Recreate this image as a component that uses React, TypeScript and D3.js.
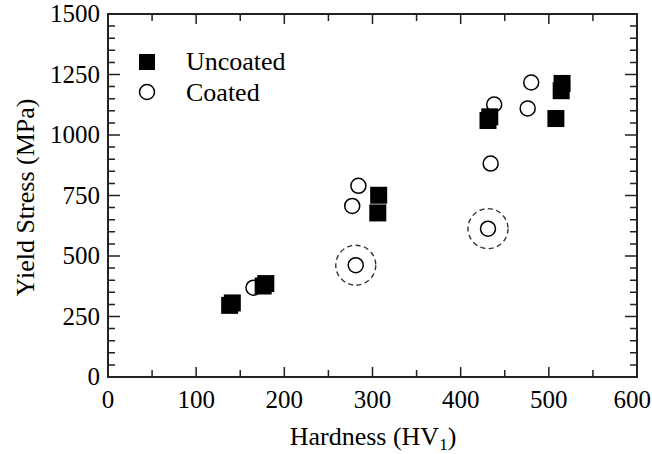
import * as d3 from 'd3';
import React, { useRef, useEffect } from 'react';

// Hardness (HV1) and yield stress (MPa)
const uncoatedHardness = [138, 141, 176, 179, 306, 307, 431, 433, 508, 514, 515];
const uncoatedStress = [296, 306, 376, 386, 678, 751, 1060, 1075, 1068, 1183, 1213];
const coatedHardness = [165, 284, 277, 281, 431, 434, 438, 476, 480];
const coatedStress = [369, 790, 707, 462, 613, 882, 1126, 1110, 1217];
// the two coated points that are ringed with a dashed circle
const ringedHardness = [281, 431];
const ringedStress = [462, 613];

const xTicks = [0, 100, 200, 300, 400, 500, 600];
const yTicks = [0, 250, 500, 750, 1000, 1250, 1500];

const W = 652;
const H = 454;
const FONT = '"Liberation Serif", "Times New Roman", serif';

const App = () => {
  const ref = useRef<SVGSVGElement>(null);

  useEffect(() => {
    document.body.style.margin = '0';
    const svg = d3.select(ref.current);
    svg.selectAll('*').remove();

    const left = 108, right = 637, top = 14, bottom = 377;
    const x = d3.scaleLinear().domain([0, 600]).range([left, right]);
    const y = d3.scaleLinear().domain([0, 1500]).range([bottom, top]);

    const g = svg.append('g');

    // ticks, inward on all four sides
    const xMinor = d3.range(0, 601, 50);
    const yMinor = d3.range(0, 1501, 50);
    const tickPath = d3.path();
    xMinor.forEach((v) => {
      const len = v % 100 === 0 ? 10 : 7;
      tickPath.moveTo(x(v), bottom); tickPath.lineTo(x(v), bottom - len);
      tickPath.moveTo(x(v), top); tickPath.lineTo(x(v), top + len);
    });
    yMinor.forEach((v) => {
      const len = v % 250 === 0 ? 12 : 7;
      tickPath.moveTo(left, y(v)); tickPath.lineTo(left + len, y(v));
      tickPath.moveTo(right, y(v)); tickPath.lineTo(right - len, y(v));
    });
    g.append('path')
      .attr('d', tickPath.toString())
      .attr('stroke', '#222')
      .attr('stroke-width', 1.5)
      .attr('fill', 'none');

    g.append('rect')
      .attr('x', left)
      .attr('y', top)
      .attr('width', right - left)
      .attr('height', bottom - top)
      .attr('fill', 'none')
      .attr('stroke', '#222')
      .attr('stroke-width', 2);

    // tick labels (the last x label runs to the picture's edge)
    g.selectAll('.xl')
      .data(xTicks)
      .enter()
      .append('text')
      .attr('x', (d) => (d === 600 ? W - 1 : x(d)))
      .attr('y', 408)
      .attr('text-anchor', (d) => (d === 600 ? 'end' : 'middle'))
      .attr('font-family', FONT)
      .attr('font-size', 25)
      .text((d) => d);

    g.selectAll('.yl')
      .data(yTicks)
      .enter()
      .append('text')
      .attr('x', 100)
      .attr('y', (d) => y(d) + 8)
      .attr('text-anchor', 'end')
      .attr('font-family', FONT)
      .attr('font-size', 25)
      .text((d) => d);

    // axis titles
    const xt = g.append('text')
      .attr('x', 373)
      .attr('y', 445)
      .attr('text-anchor', 'middle')
      .attr('font-family', FONT)
      .attr('font-size', 26);
    xt.append('tspan').text('Hardness (HV');
    xt.append('tspan').attr('font-size', 17).attr('dy', 5).text('1');
    xt.append('tspan').attr('dy', -5).text(')');

    g.append('text')
      .attr('transform', `translate(34, ${(top + bottom) / 2 + 2}) rotate(-90)`)
      .attr('text-anchor', 'middle')
      .attr('font-family', FONT)
      .attr('font-size', 26)
      .text('Yield Stress (MPa)');

    // dashed rings
    g.selectAll('.ring')
      .data(ringedHardness)
      .enter()
      .append('circle')
      .attr('cx', (d) => x(d))
      .attr('cy', (d, i) => y(ringedStress[i]))
      .attr('r', 20)
      .attr('fill', 'none')
      .attr('stroke', '#333')
      .attr('stroke-width', 1.4)
      .attr('stroke-dasharray', '5,3.5');

    // coated: open circles
    g.selectAll('.coated')
      .data(coatedHardness)
      .enter()
      .append('circle')
      .attr('cx', (d) => x(d))
      .attr('cy', (d, i) => y(coatedStress[i]))
      .attr('r', 7.5)
      .attr('fill', '#fff')
      .attr('stroke', '#000')
      .attr('stroke-width', 1.5);

    // uncoated: filled squares
    const s = 17;
    g.selectAll('.uncoated')
      .data(uncoatedHardness)
      .enter()
      .append('rect')
      .attr('x', (d) => x(d) - s / 2)
      .attr('y', (d, i) => y(uncoatedStress[i]) - s / 2)
      .attr('width', s)
      .attr('height', s)
      .attr('fill', '#000');

    // legend
    g.append('rect')
      .attr('x', 139)
      .attr('y', 54)
      .attr('width', 16)
      .attr('height', 16)
      .attr('fill', '#000');
    g.append('circle')
      .attr('cx', 147)
      .attr('cy', 92)
      .attr('r', 7.5)
      .attr('fill', '#fff')
      .attr('stroke', '#000')
      .attr('stroke-width', 1.5);
    g.append('text')
      .attr('x', 186)
      .attr('y', 70)
      .attr('font-family', FONT)
      .attr('font-size', 26)
      .text('Uncoated');
    g.append('text')
      .attr('x', 186)
      .attr('y', 101)
      .attr('font-family', FONT)
      .attr('font-size', 26)
      .text('Coated');
  }, []);

  return <svg ref={ref} width={W} height={H} style={{ display: 'block', background: '#fff' }} />;
};

export default App;
